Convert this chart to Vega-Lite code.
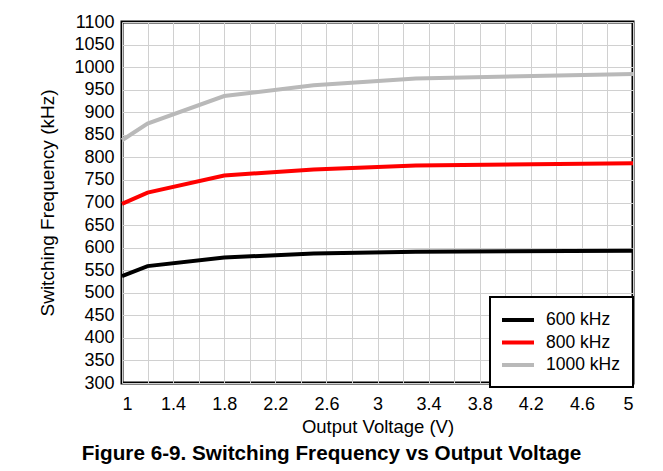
{
  "$schema": "https://vega.github.io/schema/vega-lite/v6.json",
  "width": 511,
  "height": 361,
  "autosize": {"type": "none"},
  "padding": {"left": 122, "top": 22, "right": 30, "bottom": 88},
  "background": "white",
  "config": {
    "font": "Liberation Sans",
    "view": {"stroke": "black", "strokeWidth": 3},
    "axis": {
      "gridColor": "#d0d0d0",
      "gridWidth": 1,
      "gridOpacity": 1,
      "ticks": false,
      "domain": false,
      "labelColor": "black",
      "labelFontSize": 18,
      "titleFontSize": 18.5,
      "titleFontWeight": "normal",
      "titleColor": "black"
    }
  },
  "title": {
    "text": "Figure 6-9. Switching Frequency vs Output Voltage",
    "orient": "bottom",
    "anchor": "middle",
    "fontSize": 20.7,
    "fontWeight": "bold",
    "color": "black",
    "offset": 8,
    "dx": -46
  },
  "data": {
    "values": [
      {"v": 1, "f": 537, "s": "600 kHz"},
      {"v": 1.2, "f": 559, "s": "600 kHz"},
      {"v": 1.8, "f": 578, "s": "600 kHz"},
      {"v": 2.5, "f": 587, "s": "600 kHz"},
      {"v": 3.3, "f": 591, "s": "600 kHz"},
      {"v": 5, "f": 593, "s": "600 kHz"},
      {"v": 1, "f": 697, "s": "800 kHz"},
      {"v": 1.2, "f": 722, "s": "800 kHz"},
      {"v": 1.8, "f": 760, "s": "800 kHz"},
      {"v": 2.5, "f": 773, "s": "800 kHz"},
      {"v": 3.3, "f": 782, "s": "800 kHz"},
      {"v": 5, "f": 787, "s": "800 kHz"},
      {"v": 1, "f": 838, "s": "1000 kHz"},
      {"v": 1.2, "f": 875, "s": "1000 kHz"},
      {"v": 1.8, "f": 936, "s": "1000 kHz"},
      {"v": 2.5, "f": 960, "s": "1000 kHz"},
      {"v": 3.3, "f": 975, "s": "1000 kHz"},
      {"v": 5, "f": 985, "s": "1000 kHz"}
    ]
  },
  "mark": {"type": "line", "strokeWidth": 4},
  "encoding": {
    "x": {
      "field": "v",
      "type": "quantitative",
      "scale": {"domain": [1, 5], "nice": false, "zero": false},
      "axis": {
        "title": "Output Voltage (V)",
        "values": [1, 1.2, 1.4, 1.6, 1.8, 2, 2.2, 2.4, 2.6, 2.8, 3, 3.2, 3.4, 3.6, 3.8, 4, 4.2, 4.4, 4.6, 4.8, 5],
        "format": ".1~f",
        "labelExpr": "test(/^(1|1\\.4|1\\.8|2\\.2|2\\.6|3|3\\.4|3\\.8|4\\.2|4\\.6|5)$/, datum.label) ? datum.label : ''",
        "labelPadding": 12,
        "titlePadding": 4
      }
    },
    "y": {
      "field": "f",
      "type": "quantitative",
      "scale": {"domain": [300, 1100], "nice": false, "zero": false},
      "axis": {
        "title": "Switching Frequency (kHz)",
        "titleFontSize": 19,
        "format": "d",
        "values": [300, 350, 400, 450, 500, 550, 600, 650, 700, 750, 800, 850, 900, 950, 1000, 1050, 1100],
        "labelPadding": 8,
        "titlePadding": 16
      }
    },
    "color": {
      "field": "s",
      "type": "nominal",
      "sort": ["600 kHz", "800 kHz", "1000 kHz"],
      "scale": {"domain": ["600 kHz", "800 kHz", "1000 kHz"], "range": ["#000000", "#ff0000", "#b9b9b9"]},
      "legend": {
        "title": null,
        "orient": "none",
        "legendX": 368,
        "legendY": 275,
        "padding": 13,
        "strokeColor": "black",
        "fillColor": "white",
        "symbolType": "M-2,0H2",
        "symbolSize": 256,
        "symbolOffset": 5,
        "symbolStrokeWidth": 4,
        "labelFontSize": 17.5,
        "labelColor": "black",
        "labelOffset": 18,
        "rowPadding": 3.5,
        "encode": {"legend": {"update": {"strokeWidth": {"value": 2}}}}
      }
    }
  }
}
